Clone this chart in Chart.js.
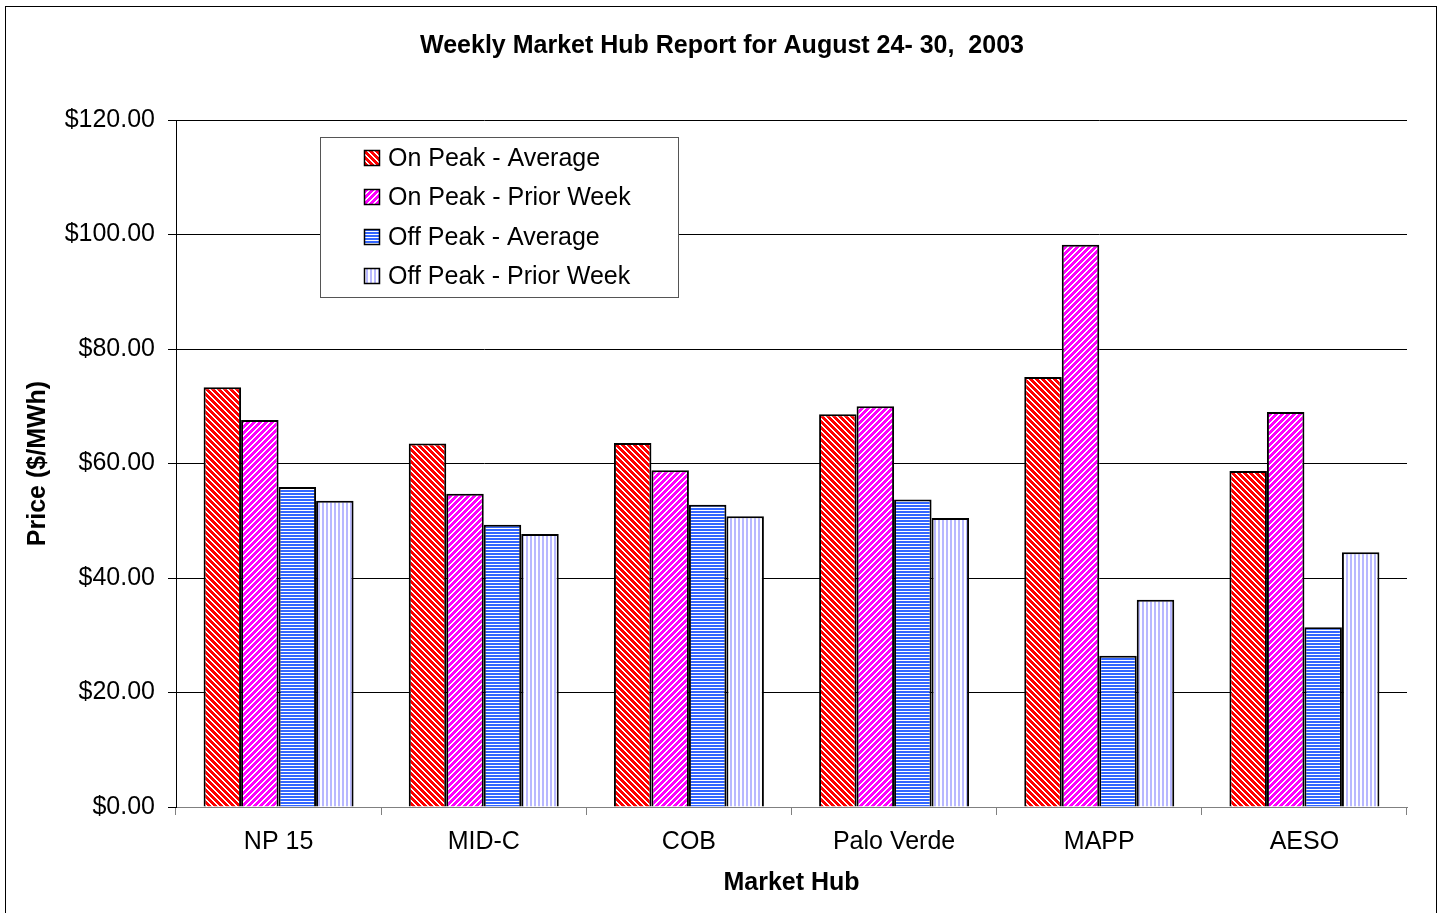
<!DOCTYPE html>
<html>
<head>
<meta charset="utf-8">
<title>Weekly Market Hub Report</title>
<script src="https://cdn.jsdelivr.net/npm/chart.js@4.4.0/dist/chart.umd.min.js"></script>
<style>
    body { margin: 0; background: #fff; }
    #wrap { width: 1443px; height: 913px; }
</style>
</head>
<body>
<div id="wrap"><canvas id="graphiqueHubs" width="1443" height="913"></canvas></div>
<script>
// donnees
let hubs = ["NP 15", "MID-C", "COB", "Palo Verde", "MAPP", "AESO"];
let seriesNoms = ["On Peak - Average", "On Peak - Prior Week", "Off Peak - Average", "Off Peak - Prior Week"];
let onPeakMoyenne = [73.3, 63.5, 63.6, 68.6, 75.1, 58.7];
let onPeakSemainePrec = [67.6, 54.7, 58.8, 70.0, 98.2, 69.0];
let offPeakMoyenne = [55.9, 49.3, 52.8, 53.7, 26.4, 31.4];
let offPeakSemainePrec = [53.5, 47.7, 50.8, 50.5, 36.2, 44.5];
let yTicks = [0, 20, 40, 60, 80, 100, 120];

let police = "'Liberation Sans', Arial, sans-serif";

// motifs hachures, pixel par pixel
function motif(taille, couleur, estBlanc) {
    let c = document.createElement("canvas");
    c.width = taille;
    c.height = taille;
    let cx = c.getContext("2d");
    for (let x = 0; x < taille; x++) {
        for (let y = 0; y < taille; y++) {
            cx.fillStyle = estBlanc(x, y) ? "#ffffff" : couleur;
            cx.fillRect(x, y, 1, 1);
        }
    }
    return cx.createPattern(c, "repeat");
}

let ctx = document.getElementById("graphiqueHubs").getContext("2d");
let motifs = [
    motif(6, "#ff0000", function (x, y) { return ((x - y) % 6 + 6) % 6 < 2; }),
    motif(6, "#ff00ff", function (x, y) { return (x + y) % 6 < 2; }),
    motif(3, "#3366ff", function (x, y) { return y % 3 == 0; }),
    motif(4, "#b8b8ff", function (x, y) { return x % 4 < 2; })
];
let valeurs = [onPeakMoyenne, onPeakSemainePrec, offPeakMoyenne, offPeakSemainePrec];

let datasets = [];
for (let i = 0; i < seriesNoms.length; i++) {
    datasets.push({
        label: seriesNoms[i],
        data: valeurs[i],
        backgroundColor: motifs[i],
        borderColor: "#000000",
        borderWidth: 2,
        barPercentage: 1.0,
        categoryPercentage: 0.731
    });
}

// cadre exterieur + titre
let cadrePlugin = {
    id: "cadre",
    beforeDraw: function (chart) {
        let c = chart.ctx;
        c.save();
        c.fillStyle = "#ffffff";
        c.fillRect(0, 0, chart.width, chart.height);
        c.strokeStyle = "#000000";
        c.lineWidth = 1;
        c.strokeRect(5.5, 6.5, 1431, 908);
        c.fillStyle = "#000000";
        c.font = "bold 25px " + police;
        c.textAlign = "center";
        c.textBaseline = "middle";
        c.fillText("Weekly Market Hub Report for August 24- 30,  2003", 722, 46);
        c.restore();
    }
};

// legende dans la zone du graphique
let legendePlugin = {
    id: "legendeInterne",
    afterDraw: function (chart) {
        let c = chart.ctx;
        c.save();
        c.fillStyle = "#ffffff";
        c.fillRect(320, 137, 358, 160);
        c.strokeStyle = "#555555";
        c.lineWidth = 1;
        c.strokeRect(320.5, 137.5, 358, 160);
        let lignes = [158, 197, 237, 276];
        c.font = "25px " + police;
        c.textBaseline = "middle";
        c.textAlign = "left";
        chart.data.datasets.forEach(function (ds, i) {
            let y = lignes[i];
            c.fillStyle = ds.backgroundColor;
            c.fillRect(364, y - 8, 16, 16);
            c.strokeStyle = "#000000";
            c.lineWidth = 1.5;
            c.strokeRect(364.5, y - 7.5, 15, 15);
            c.fillStyle = "#000000";
            c.fillText(ds.label, 388, y + 1);
        });
        c.restore();
    }
};

let chart = new Chart(ctx, {
    type: "bar",
    data: {
        labels: hubs,
        datasets: datasets
    },
    options: {
        responsive: false,
        animation: false,
        layout: {
            padding: { top: 120, right: 36, left: 0, bottom: 0 }
        },
        plugins: {
            legend: { display: false },
            title: { display: false },
            tooltip: { enabled: false }
        },
        scales: {
            x: {
                afterFit: function (scale) { scale.height = 106; },
                grid: {
                    drawOnChartArea: false,
                    drawTicks: true,
                    tickLength: 8,
                    color: "#808080"
                },
                border: { color: "#808080", width: 1 },
                ticks: {
                    color: "#000000",
                    padding: 12,
                    font: { family: police, size: 25, lineHeight: 1.2 }
                },
                title: {
                    display: true,
                    text: "Market Hub",
                    color: "#000000",
                    padding: { top: 0, bottom: 15 },
                    font: { family: police, size: 25, weight: "bold", lineHeight: 1.2 }
                }
            },
            y: {
                min: 0,
                max: 120,
                afterFit: function (scale) { scale.width = 176; },
                afterBuildTicks: function (scale) {
                    scale.ticks = yTicks.map(function (v) { return { value: v }; });
                },
                grid: {
                    color: "#000000",
                    lineWidth: 1,
                    tickLength: 8
                },
                border: { color: "#000000", width: 1 },
                ticks: {
                    color: "#000000",
                    padding: 13,
                    font: { family: police, size: 25 },
                    callback: function (v) { return "$" + Number(v).toFixed(2); }
                },
                title: {
                    display: true,
                    text: "Price ($/MWh)",
                    color: "#000000",
                    padding: { top: 23, bottom: 0 },
                    font: { family: police, size: 25, weight: "bold", lineHeight: 1.2 }
                }
            }
        }
    },
    plugins: [cadrePlugin, legendePlugin]
});
</script>
</body>
</html>
